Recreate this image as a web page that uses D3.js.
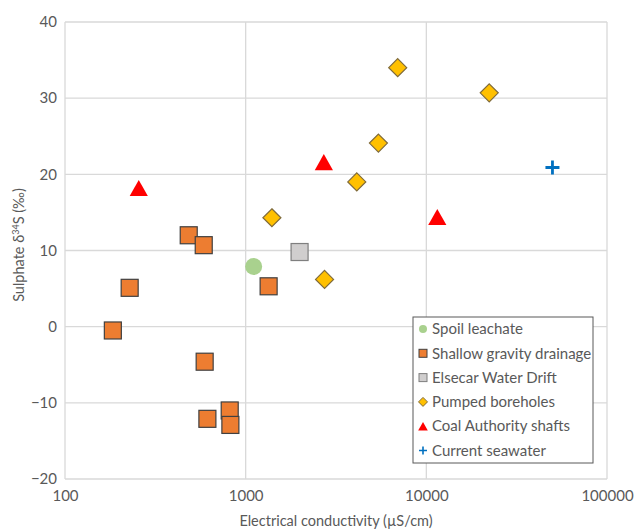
<!DOCTYPE html>
<html>
<head>
<meta charset="utf-8">
<script src="https://cdn.jsdelivr.net/npm/d3@7/dist/d3.min.js"></script>
<style>
  html, body { margin: 0; padding: 0; background: #fff; }
  svg { display: block; }
  text { font-family: Lato, "Open Sans", sans-serif; fill: #595959; }
</style>
</head>
<body>
<svg id="chart" width="635" height="529"></svg>
<script>
// Sulphate δ34S against electrical conductivity, by water source
const spoilEC = [1107];
const spoilS = [7.9];

const shallowEC = [484, 586, 228, 1340, 184, 593, 614, 816, 823];
const shallowS = [12.0, 10.7, 5.1, 5.3, -0.5, -4.6, -12.1, -11.0, -12.9];

const elsecarEC = [1988];
const elsecarS = [9.8];

const boreholeEC = [1397, 6943, 22290, 5430, 4121, 2733];
const boreholeS = [14.3, 34.0, 30.7, 24.1, 19.0, 6.2];

const shaftEC = [256, 2708, 11500];
const shaftS = [18.2, 21.6, 14.4];

const seawaterEC = [49900];
const seawaterS = [20.9];

const xTicks = [100, 1000, 10000, 100000];
const yTicks = [-20, -10, 0, 10, 20, 30, 40];

const seriesNames = ["Spoil leachate", "Shallow gravity drainage", "Elsecar Water Drift",
                     "Pumped boreholes", "Coal Authority shafts", "Current seawater"];

const zip = (xs, ys) => xs.map((v, i) => ({ ec: v, s: ys[i] }));

const series = [
  { name: seriesNames[0], pts: zip(spoilEC, spoilS), shape: "circle", fill: "#A9D18E", stroke: "none" },
  { name: seriesNames[1], pts: zip(shallowEC, shallowS), shape: "square", fill: "#ED7D31", stroke: "#404040" },
  { name: seriesNames[2], pts: zip(elsecarEC, elsecarS), shape: "square", fill: "#D0CECE", stroke: "#7F7F7F" },
  { name: seriesNames[3], pts: zip(boreholeEC, boreholeS), shape: "diamond", fill: "#FFC000", stroke: "#7F6A3A" },
  { name: seriesNames[4], pts: zip(shaftEC, shaftS), shape: "triangle", fill: "#FF0000", stroke: "none" },
  { name: seriesNames[5], pts: zip(seawaterEC, seawaterS), shape: "plus", fill: "none", stroke: "#0070C0" }
];

const svg = d3.select("#chart");
const margin = { left: 65, top: 22, right: 28, bottom: 50 };
const W = 635, H = 529;

const x = d3.scaleLog().domain([100, 100000]).range([margin.left, W - margin.right]);
const y = d3.scaleLinear().domain([-20, 40]).range([H - margin.bottom, margin.top]);

// gridlines
svg.append("g").selectAll("line.vg").data(xTicks).join("line")
  .attr("x1", d => x(d)).attr("x2", d => x(d))
  .attr("y1", y(-20)).attr("y2", y(40))
  .attr("stroke", "#D9D9D9").attr("stroke-width", 1.3);
svg.append("g").selectAll("line.hg").data(yTicks).join("line")
  .attr("x1", x(100)).attr("x2", x(100000))
  .attr("y1", d => y(d)).attr("y2", d => y(d))
  .attr("stroke", "#D9D9D9").attr("stroke-width", 1.3);

// axes (labels only)
const xAxis = svg.append("g").attr("transform", `translate(0,${y(-20)})`)
  .call(d3.axisBottom(x).tickValues(xTicks).tickFormat(d3.format("d")).tickSize(0).tickPadding(11));
const yAxis = svg.append("g").attr("transform", `translate(${x(100)},0)`)
  .call(d3.axisLeft(y).tickValues(yTicks).tickSize(0).tickPadding(8));
[xAxis, yAxis].forEach(g => {
  g.select(".domain").remove();
  g.selectAll("text").attr("font-size", 15).attr("font-family", "Lato, 'Open Sans', sans-serif").attr("fill", "#595959");
});

// axis titles
svg.append("text")
  .attr("x", 336).attr("y", 526)
  .attr("text-anchor", "middle").attr("font-size", 14.5)
  .text("Electrical conductivity (µS/cm)");
const yt = svg.append("text")
  .attr("transform", `translate(24,${245}) rotate(-90)`)
  .attr("text-anchor", "middle").attr("font-size", 14.5);
yt.append("tspan").text("Sulphate δ");
yt.append("tspan").attr("font-size", 9).attr("dy", -5).text("34");
yt.append("tspan").attr("dy", 5).text("S (‰)");

// marker drawing
function drawMarker(g, shape, size, fill, stroke, sw) {
  const h = size / 2;
  if (shape === "circle") {
    g.append("circle").attr("r", h).attr("fill", fill).attr("stroke", stroke);
  } else if (shape === "square") {
    g.append("rect").attr("x", -h).attr("y", -h).attr("width", size).attr("height", size)
      .attr("fill", fill).attr("stroke", stroke).attr("stroke-width", sw);
  } else if (shape === "diamond") {
    g.append("path").attr("d", `M0,${-h}L${h},0L0,${h}L${-h},0Z`)
      .attr("fill", fill).attr("stroke", stroke).attr("stroke-width", sw);
  } else if (shape === "triangle") {
    g.append("path").attr("d", `M0,${-h * 0.95}L${h * 1.07},${h * 0.95}L${-h * 1.07},${h * 0.95}Z`)
      .attr("fill", fill);
  } else if (shape === "plus") {
    g.append("path").attr("d", `M${-h},0H${h}M0,${-h}V${h}`)
      .attr("stroke", stroke).attr("stroke-width", size * 0.2).attr("fill", "none");
  }
}

const markerSize = { circle: 17, square: 17, diamond: 18, triangle: 17, plus: 14 };

series.forEach(s => {
  const g = svg.append("g");
  s.pts.forEach(p => {
    const m = g.append("g").attr("transform", `translate(${x(p.ec)},${y(p.s)})`);
    drawMarker(m, s.shape, markerSize[s.shape], s.fill, s.stroke, 1.2);
  });
});

// legend
const lg = svg.append("g").attr("transform", "translate(413,317)");
lg.append("rect").attr("width", 180).attr("height", 146)
  .attr("fill", "#fff").attr("stroke", "#595959").attr("stroke-width", 1);
const legendSize = { circle: 8, square: 8, diamond: 9, triangle: 9, plus: 8 };
series.forEach((s, i) => {
  const row = lg.append("g").attr("transform", `translate(0,${12 + i * 24.3})`);
  const m = row.append("g").attr("transform", "translate(10,0)");
  drawMarker(m, s.shape, legendSize[s.shape], s.fill, s.stroke, 1);
  row.append("text").attr("x", 19).attr("y", 0).attr("dy", "0.35em")
    .attr("font-size", 15).text(s.name);
});
</script>
</body>
</html>
